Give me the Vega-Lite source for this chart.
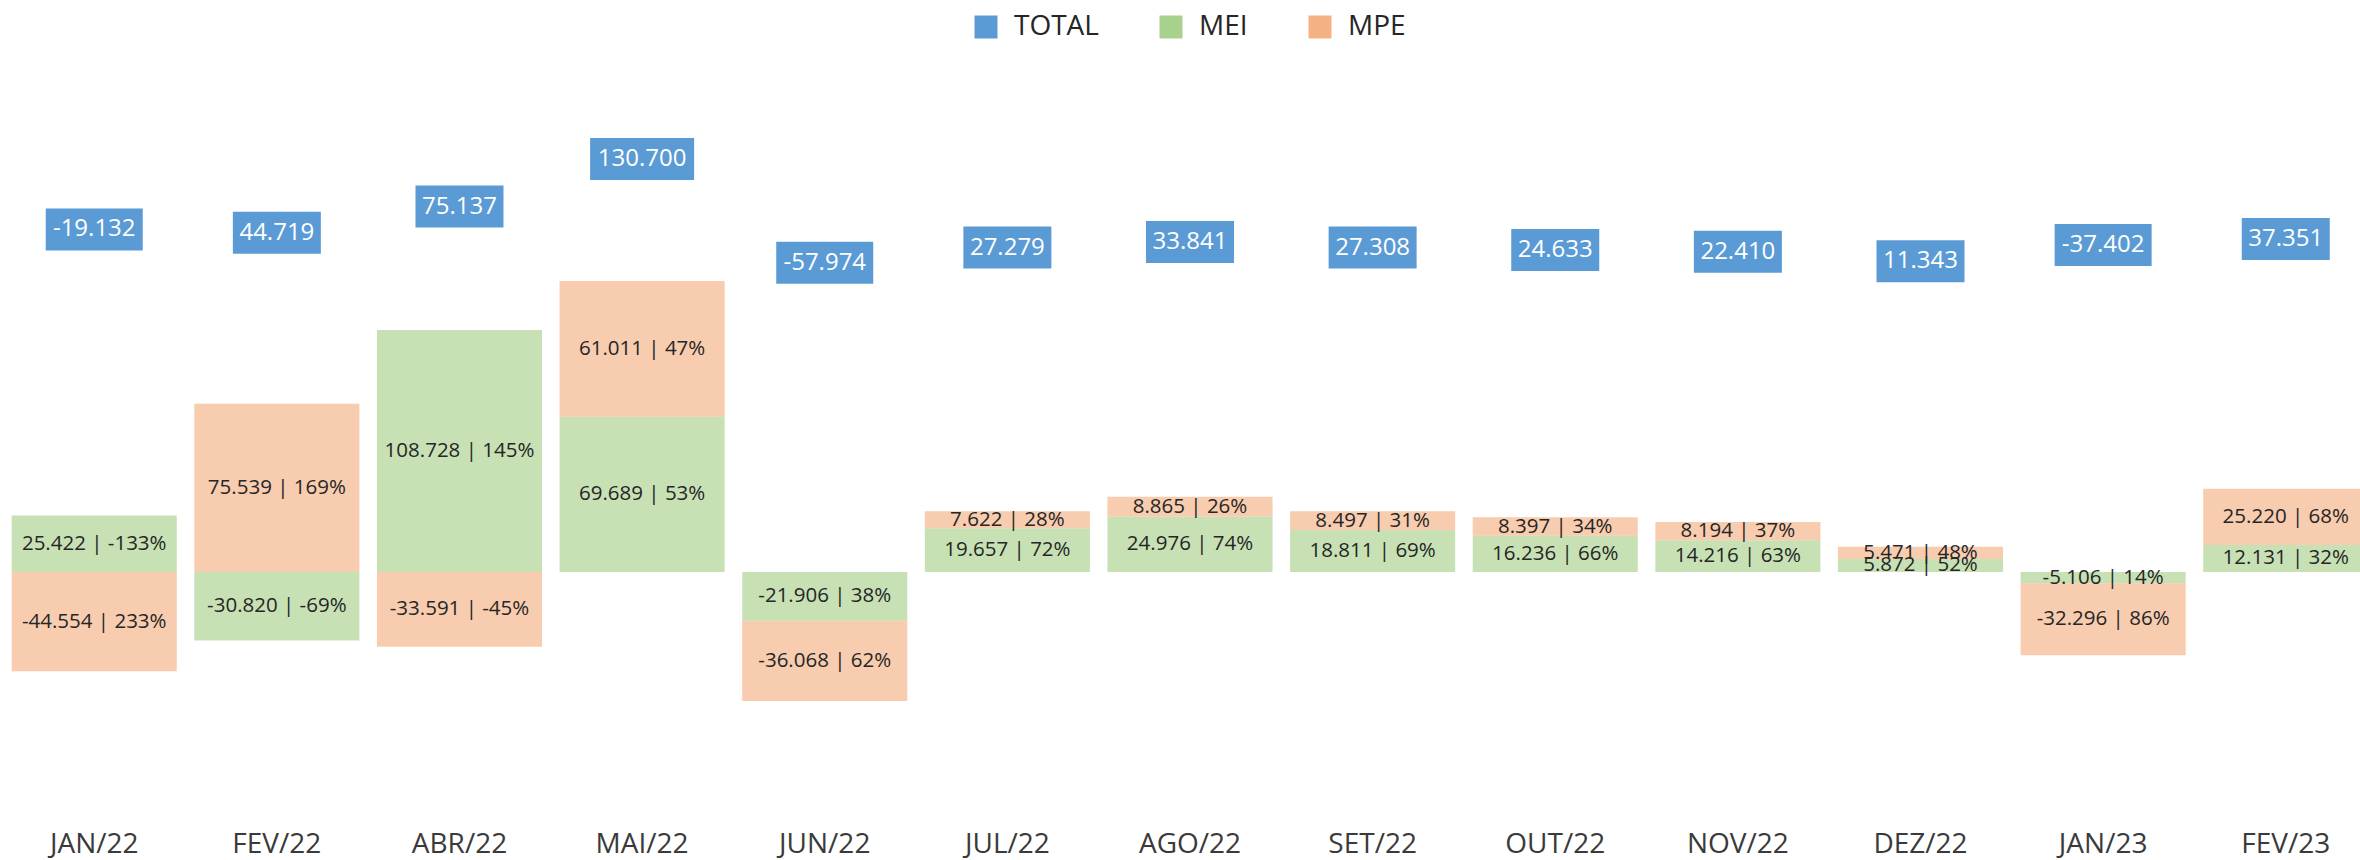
{
  "$schema": "https://vega.github.io/schema/vega-lite/v6.json",
  "autosize": {"type": "none"},
  "width": 2360,
  "height": 800,
  "padding": {"top": 0, "left": 0, "right": 0, "bottom": 60},
  "background": "white",
  "config": {
    "view": {"stroke": null},
    "font": "Open Sans"
  },
  "datasets": {
    "barras": [
      {"mes": "JAN/22", "tipo": "MEI", "valor": 25422, "rotulo": "25.422 | -133%"},
      {"mes": "JAN/22", "tipo": "MPE", "valor": -44554, "rotulo": "-44.554 | 233%"},
      {"mes": "FEV/22", "tipo": "MEI", "valor": -30820, "rotulo": "-30.820 | -69%"},
      {"mes": "FEV/22", "tipo": "MPE", "valor": 75539, "rotulo": "75.539 | 169%"},
      {"mes": "ABR/22", "tipo": "MEI", "valor": 108728, "rotulo": "108.728 | 145%"},
      {"mes": "ABR/22", "tipo": "MPE", "valor": -33591, "rotulo": "-33.591 | -45%"},
      {"mes": "MAI/22", "tipo": "MEI", "valor": 69689, "rotulo": "69.689 | 53%"},
      {"mes": "MAI/22", "tipo": "MPE", "valor": 61011, "rotulo": "61.011 | 47%"},
      {"mes": "JUN/22", "tipo": "MEI", "valor": -21906, "rotulo": "-21.906 | 38%"},
      {"mes": "JUN/22", "tipo": "MPE", "valor": -36068, "rotulo": "-36.068 | 62%"},
      {"mes": "JUL/22", "tipo": "MEI", "valor": 19657, "rotulo": "19.657 | 72%"},
      {"mes": "JUL/22", "tipo": "MPE", "valor": 7622, "rotulo": "7.622 | 28%"},
      {"mes": "AGO/22", "tipo": "MEI", "valor": 24976, "rotulo": "24.976 | 74%"},
      {"mes": "AGO/22", "tipo": "MPE", "valor": 8865, "rotulo": "8.865 | 26%"},
      {"mes": "SET/22", "tipo": "MEI", "valor": 18811, "rotulo": "18.811 | 69%"},
      {"mes": "SET/22", "tipo": "MPE", "valor": 8497, "rotulo": "8.497 | 31%"},
      {"mes": "OUT/22", "tipo": "MEI", "valor": 16236, "rotulo": "16.236 | 66%"},
      {"mes": "OUT/22", "tipo": "MPE", "valor": 8397, "rotulo": "8.397 | 34%"},
      {"mes": "NOV/22", "tipo": "MEI", "valor": 14216, "rotulo": "14.216 | 63%"},
      {"mes": "NOV/22", "tipo": "MPE", "valor": 8194, "rotulo": "8.194 | 37%"},
      {"mes": "DEZ/22", "tipo": "MEI", "valor": 5872, "rotulo": "5.872 | 52%"},
      {"mes": "DEZ/22", "tipo": "MPE", "valor": 5471, "rotulo": "5.471 | 48%"},
      {"mes": "JAN/23", "tipo": "MEI", "valor": -5106, "rotulo": "-5.106 | 14%"},
      {"mes": "JAN/23", "tipo": "MPE", "valor": -32296, "rotulo": "-32.296 | 86%"},
      {"mes": "FEV/23", "tipo": "MEI", "valor": 12131, "rotulo": "12.131 | 32%"},
      {"mes": "FEV/23", "tipo": "MPE", "valor": 25220, "rotulo": "25.220 | 68%"}
    ],
    "totais": [
      {"mes": "JAN/22", "total": -19132, "rotulo": "-19.132"},
      {"mes": "FEV/22", "total": 44719, "rotulo": "44.719"},
      {"mes": "ABR/22", "total": 75137, "rotulo": "75.137"},
      {"mes": "MAI/22", "total": 130700, "rotulo": "130.700"},
      {"mes": "JUN/22", "total": -57974, "rotulo": "-57.974"},
      {"mes": "JUL/22", "total": 27279, "rotulo": "27.279"},
      {"mes": "AGO/22", "total": 33841, "rotulo": "33.841"},
      {"mes": "SET/22", "total": 27308, "rotulo": "27.308"},
      {"mes": "OUT/22", "total": 24633, "rotulo": "24.633"},
      {"mes": "NOV/22", "total": 22410, "rotulo": "22.410"},
      {"mes": "DEZ/22", "total": 11343, "rotulo": "11.343"},
      {"mes": "JAN/23", "total": -37402, "rotulo": "-37.402"},
      {"mes": "FEV/23", "total": 37351, "rotulo": "37.351"}
    ]
  },
  "encoding": {
    "x": {
      "field": "mes",
      "type": "nominal",
      "scale": {
        "domain": ["JAN/22", "FEV/22", "ABR/22", "MAI/22", "JUN/22", "JUL/22", "AGO/22", "SET/22", "OUT/22", "NOV/22", "DEZ/22", "JAN/23", "FEV/23"],
        "range": [0, 2380],
        "paddingInner": 0.096,
        "paddingOuter": 0.064
      },
      "axis": {
        "title": null,
        "domain": false,
        "ticks": false,
        "grid": false,
        "labelAngle": 0,
        "labelFont": "Open Sans",
        "labelFontSize": 28,
        "labelColor": "#3a3a3a",
        "labelBaseline": "top",
        "labelPadding": 30
      }
    }
  },
  "layer": [
    {
      "data": {"name": "barras"},
      "layer": [
        {
          "mark": {"type": "bar", "opacity": 0.65},
          "encoding": {
            "y": {
              "field": "valor",
              "type": "quantitative",
              "stack": "zero",
              "scale": {"domain": [-102430, 256960], "nice": false, "zero": false},
              "axis": null
            },
            "color": {
              "field": "tipo",
              "type": "nominal",
              "scale": {"domain": ["TOTAL", "MEI", "MPE"], "range": ["#5b9bd5", "#a9d18e", "#f4b183"]},
              "legend": {
                "title": null,
                "orient": "none",
                "legendX": 972,
                "legendY": 13,
                "direction": "horizontal",
                "symbolType": "square",
                "symbolSize": 529,
                "symbolOpacity": 1,
                "symbolStrokeWidth": 0,
                "labelFont": "Open Sans",
                "labelFontSize": 28,
                "labelColor": "#262626",
                "labelOffset": 14,
                "columnPadding": 58,
                "padding": 0
              }
            },
            "order": {"field": "tipo", "sort": "ascending"}
          }
        },
        {
          "mark": {"type": "text", "font": "Open Sans", "fontSize": 20.5, "color": "#262626", "align": "center", "baseline": "middle"},
          "encoding": {
            "y": {
              "field": "valor",
              "type": "quantitative",
              "stack": "zero",
              "bandPosition": 0.5,
              "scale": {"domain": [-102430, 256960], "nice": false, "zero": false},
              "axis": null
            },
            "detail": {"field": "tipo"},
            "order": {"field": "tipo", "sort": "ascending"},
            "text": {"field": "rotulo"}
          }
        }
      ]
    },
    {
      "data": {"name": "totais"},
      "transform": [{"filter": "datum.total >= 0"}],
      "layer": [
        {
          "mark": {"type": "tick", "color": "#5b9bd5", "opacity": 1, "thickness": 42, "orient": "horizontal"},
          "encoding": {
            "y": {"field": "total", "type": "quantitative", "scale": {"domain": [-617270, 316220], "nice": false, "zero": false}, "axis": null},
            "size": {"condition": {"test": "length(datum.rotulo) >= 7", "value": 104}, "value": 88}
          }
        },
        {
          "mark": {"type": "text", "font": "Open Sans", "fontSize": 24, "color": "white", "align": "center", "baseline": "middle"},
          "encoding": {
            "y": {"field": "total", "type": "quantitative", "scale": {"domain": [-617270, 316220], "nice": false, "zero": false}, "axis": null},
            "text": {"field": "rotulo"}
          }
        }
      ]
    },
    {
      "data": {"name": "totais"},
      "transform": [{"filter": "datum.total < 0"}],
      "layer": [
        {
          "mark": {"type": "tick", "color": "#5b9bd5", "opacity": 1, "thickness": 42, "orient": "horizontal", "yOffset": -58},
          "encoding": {
            "y": {"field": "total", "type": "quantitative", "scale": {"domain": [-617270, 316220], "nice": false, "zero": false}, "axis": null},
            "size": {"value": 97}
          }
        },
        {
          "mark": {"type": "text", "font": "Open Sans", "fontSize": 24, "color": "white", "align": "center", "baseline": "middle", "yOffset": -58},
          "encoding": {
            "y": {"field": "total", "type": "quantitative", "scale": {"domain": [-617270, 316220], "nice": false, "zero": false}, "axis": null},
            "text": {"field": "rotulo"}
          }
        }
      ]
    }
  ],
  "resolve": {"scale": {"y": "independent"}}
}
